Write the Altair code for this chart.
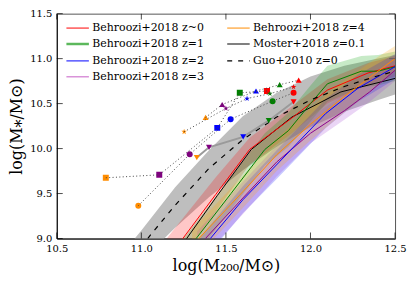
import altair as alt
import pandas as pd

W, H = 340, 226
FONT = "DejaVu Serif"

# ---------------- data ----------------
x_ticks = [10.5, 11.0, 11.5, 12.0, 12.5]
y_ticks = [9.0, 9.5, 10.0, 10.5, 11.0, 11.5]

# Guo+2010 z=0 (dashed)
guo_x = [11.0, 11.05, 11.2, 11.4, 11.6, 11.8, 12.0, 12.2, 12.4, 12.5]
guo_y = [8.90, 9.03, 9.37, 9.78, 10.10, 10.35, 10.54, 10.69, 10.81, 10.86]

# grey scatter band
gband_x = [10.9, 11.0, 11.2, 11.4, 11.6, 11.8, 12.0, 12.2, 12.4, 12.5]
gband_lo = [8.55, 8.75, 9.12, 9.46, 9.76, 10.02, 10.24, 10.41, 10.54, 10.60]
gband_hi = [8.86, 9.09, 9.57, 9.98, 10.36, 10.62, 10.80, 10.92, 11.00, 11.04]

# black solid relation
blk_x = [11.2, 11.45, 11.65, 11.89, 12.18, 12.5]
blk_y = [8.82, 9.48, 9.99, 10.35, 10.63, 10.78]

# Behroozi+2018 relations: x, median, upper, lower
beh = {
    "z0": dict(x=[11.15, 11.44, 11.64, 11.89, 12.1, 12.34, 12.5],
               y=[8.76, 9.49, 9.99, 10.34, 10.65, 10.84, 10.92],
               hi=[9.00, 9.68, 10.12, 10.47, 10.77, 10.95, 11.03],
               lo=[8.55, 9.30, 9.82, 10.17, 10.50, 10.71, 10.80]),
    "z1": dict(x=[11.25, 11.53, 11.73, 11.87, 12.0, 12.1, 12.3, 12.4, 12.5],
               y=[8.82, 9.50, 9.99, 10.20, 10.50, 10.72, 10.86, 10.86, 10.91],
               hi=[9.00, 9.68, 10.17, 10.40, 10.70, 10.92, 11.03, 11.04, 11.08],
               lo=[8.64, 9.32, 9.81, 10.02, 10.30, 10.52, 10.68, 10.70, 10.75]),
    "z2": dict(x=[11.35, 11.6, 11.81, 12.09, 12.28, 12.5],
               y=[8.87, 9.43, 9.84, 10.39, 10.67, 10.91],
               hi=[9.02, 9.58, 10.00, 10.55, 10.82, 11.05],
               lo=[8.72, 9.28, 9.68, 10.23, 10.52, 10.77]),
    "z3": dict(x=[11.33, 11.6, 11.8, 12.0, 12.2, 12.35, 12.5],
               y=[8.90, 9.45, 9.85, 10.17, 10.42, 10.63, 10.87],
               hi=[9.08, 9.63, 10.03, 10.35, 10.60, 10.80, 11.03],
               lo=[8.72, 9.27, 9.69, 10.06, 10.32, 10.52, 10.75]),
    "z4": dict(x=[11.3, 11.6, 11.8, 12.0, 12.2, 12.4, 12.5],
               y=[8.92, 9.52, 9.93, 10.27, 10.58, 10.86, 11.00],
               hi=[9.10, 9.70, 10.11, 10.45, 10.76, 11.02, 11.14],
               lo=[8.74, 9.34, 9.75, 10.09, 10.40, 10.70, 10.86]),
}
beh_line_color = {"z0": "#ff0000", "z1": "#008000", "z2": "#0000ff", "z3": "#8b008b", "z4": "#ff8c00"}
beh_band_color = {"z0": "#ff0000", "z1": "#00a000", "z2": "#0000ff", "z3": "#a040d0", "z4": "#ffa500"}

# observational points: group (shape), colour, x, y  (ordered along each track)
obs_shape = ["square"] * 5 + ["circle"] * 5 + ["star"] * 5 + ["triangle-up"] * 5 + ["triangle-down"] * 5
obs_color = ["#ff8c00", "#800080", "#0000ff", "#008000", "#ff0000"] * 5
obs_x = [10.79, 11.106, 11.449, 11.582, 11.743,
         10.982, 11.286, 11.528, 11.776, 11.90,
         11.253, 11.50, 11.625, 11.76, 11.90,
         11.38, 11.478, 11.678, 11.818, 11.93,
         11.328, 11.40, 11.602, 11.753, 11.90]
obs_y = [9.675, 9.708, 10.23, 10.62, 10.64,
         9.365, 9.937, 10.327, 10.527, 10.62,
         10.187, 10.446, 10.556, 10.61, 10.685,
         10.346, 10.49, 10.64, 10.71, 10.76,
         9.90, 10.014, 10.13, 10.31, 10.52]
obs_order = [0, 1, 2, 3, 4] * 5

# legend
leg_labels = ["Behroozi+2018 z~0", "Behroozi+2018 z=1", "Behroozi+2018 z=2", "Behroozi+2018 z=3",
              "Behroozi+2018 z=4", "Moster+2018 z=0.1", "Guo+2010 z=0"]
leg_colors = ["#ff0000", "#5cb85c", "#0000ff", "#c65cc6", "#ff8c00", "#808080", "#000000"]
leg_widths = [1, 2.5, 1, 1, 1, 2, 1.2]

STAR = "M0,-1L0.2245,-0.309L0.951,-0.309L0.363,0.118L0.588,0.809L0,0.382L-0.588,0.809L-0.363,0.118L-0.951,-0.309L-0.2245,-0.309Z"

# ---------------- scales / axes ----------------
xs = alt.Scale(domain=[10.5, 12.5], nice=False, zero=False)
ys = alt.Scale(domain=[9.0, 11.5], nice=False, zero=False)
xaxis = alt.Axis(values=x_ticks, format=".1f", ticks=False, grid=False, domainColor="black",
                 labelFont=FONT, labelFontSize=10, labelColor="black", labelPadding=5,
                 labelFlush=False, labelOverlap=False,
                 title="log(M₂₀₀/M⊙)", titleFont=FONT, titleFontSize=16, titleFontWeight="normal",
                 titleColor="black", titleBaseline="middle", titleY=27)
yaxis = alt.Axis(values=y_ticks, format=".1f", ticks=False, grid=False, domainColor="black",
                 labelFont=FONT, labelFontSize=10, labelColor="black", labelPadding=5,
                 labelFlush=False, labelOverlap=False,
                 title="log(M⁎/M⊙)", titleFont=FONT, titleFontSize=16, titleFontWeight="normal",
                 titleColor="black", titleBaseline="middle", titleX=-40, titleY=H / 2)


def X(f):
    return alt.X(f, type="quantitative", scale=xs, axis=xaxis)


def Y(f):
    return alt.Y(f, type="quantitative", scale=ys, axis=yaxis)


layers = []

# grey band
gdf = pd.DataFrame({"x": gband_x, "lo": gband_lo, "hi": gband_hi})
layers.append(alt.Chart(gdf).mark_area(clip=True, color="#a8a8a8", opacity=0.75)
              .encode(x=X("x"), y=Y("lo"), y2="hi"))

# Behroozi bands
for k, d in beh.items():
    df = pd.DataFrame({"x": d["x"], "lo": d["lo"], "hi": d["hi"]})
    layers.append(alt.Chart(df).mark_area(clip=True, color=beh_band_color[k], opacity=0.22)
                  .encode(x=X("x"), y=Y("lo"), y2="hi"))

# black solid
bdf = pd.DataFrame({"x": blk_x, "y": blk_y})
layers.append(alt.Chart(bdf).mark_line(clip=True, color="black", strokeWidth=1)
              .encode(x=X("x"), y=Y("y")))

# Behroozi lines
for k in ["z0", "z1", "z4", "z3", "z2"]:
    d = beh[k]
    df = pd.DataFrame({"x": d["x"], "y": d["y"]})
    layers.append(alt.Chart(df).mark_line(clip=True, color=beh_line_color[k], strokeWidth=1)
                  .encode(x=X("x"), y=Y("y")))

# Guo dashed
gudf = pd.DataFrame({"x": guo_x, "y": guo_y})
layers.append(alt.Chart(gudf).mark_line(clip=True, color="black", strokeWidth=1.2, strokeDash=[5, 6])
              .encode(x=X("x"), y=Y("y")))

# observation tracks
odf = pd.DataFrame({"x": obs_x, "y": obs_y, "shape": [STAR if s == "star" else s for s in obs_shape],
                    "grp": obs_shape, "color": obs_color, "ord": obs_order})
dotted = odf[odf.grp != "triangle-down"]
solid = odf[odf.grp == "triangle-down"]
layers.append(alt.Chart(solid).mark_line(clip=True, color="#9a9a9a", strokeWidth=2)
              .encode(x=X("x"), y=Y("y"), detail="grp:N", order="ord:Q"))
layers.append(alt.Chart(odf).mark_point(clip=True, filled=True, opacity=1, size=36, strokeWidth=0)
              .encode(x=X("x"), y=Y("y"),
                      shape=alt.Shape("shape:N", scale=None),
                      color=alt.Color("color:N", scale=None)))
layers.append(alt.Chart(dotted).mark_line(clip=True, color="#444", strokeWidth=1, strokeDash=[1, 2.4])
              .encode(x=X("x"), y=Y("y"), detail="grp:N", order="ord:Q"))

# inward ticks on all four sides
xt = pd.DataFrame({"v": x_ticks})
yt = pd.DataFrame({"v": y_ticks})
layers.append(alt.Chart(xt).mark_tick(orient="vertical", size=6, thickness=1, color="black")
              .encode(x=X("v"), y=alt.value(H - 3)))
layers.append(alt.Chart(xt).mark_tick(orient="vertical", size=6, thickness=1, color="black")
              .encode(x=X("v"), y=alt.value(3)))
layers.append(alt.Chart(yt).mark_tick(orient="horizontal", size=6, thickness=1, color="black")
              .encode(y=Y("v"), x=alt.value(3)))
layers.append(alt.Chart(yt).mark_tick(orient="horizontal", size=6, thickness=1, color="#555")
              .encode(y=Y("v"), x=alt.value(W - 3)))

# legend (two columns, column-major order)
col_x1 = [9.7, 171.3]
col_len = 22.6
col_tx = [35.7, 197.3]
rows = [14.5, 30.5, 47.5, 63.5]
pos = [(0, 0), (0, 1), (0, 2), (0, 3), (1, 0), (1, 1), (1, 2)]
ldf = pd.DataFrame({
    "label": leg_labels,
    "c": leg_colors,
    "w": leg_widths,
    "x1": [col_x1[c] for c, r in pos],
    "x2": [col_x1[c] + col_len for c, r in pos],
    "tx": [col_tx[c] for c, r in pos],
    "y": [rows[r] for c, r in pos],
})
solid_leg = ldf[ldf.label != "Guo+2010 z=0"]
dash_leg = ldf[ldf.label == "Guo+2010 z=0"]
layers.append(alt.Chart(solid_leg).mark_rule()
              .encode(x=alt.X("x1:Q", scale=None), x2="x2:Q", y=alt.Y("y:Q", scale=None),
                      color=alt.Color("c:N", scale=None),
                      strokeWidth=alt.StrokeWidth("w:Q", scale=None)))
layers.append(alt.Chart(dash_leg).mark_rule(strokeDash=[5, 6], strokeWidth=1.2, color="black")
              .encode(x=alt.X("x1:Q", scale=None), x2="x2:Q", y=alt.Y("y:Q", scale=None)))
layers.append(alt.Chart(ldf).mark_text(align="left", baseline="middle", font=FONT, fontSize=11, color="black")
              .encode(x=alt.X("tx:Q", scale=None), y=alt.Y("y:Q", scale=None), text="label:N"))

chart = alt.layer(*layers).properties(
    width=W, height=H,
    autosize=alt.AutoSizeParams(type="none"),
    padding={"left": 49, "top": 5, "right": 12, "bottom": 38},
).configure_view(stroke="#555", strokeWidth=1)

chart.save("out.html", embed_options={"renderer": "svg", "actions": False})
